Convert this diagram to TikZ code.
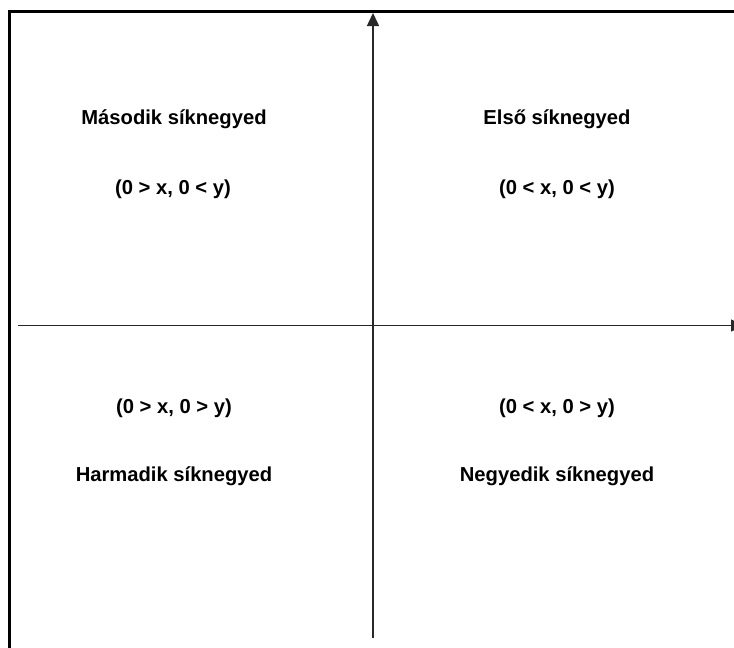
\documentclass[tikz,border=0pt]{standalone}
\usepackage{fontspec}
\setmainfont{Liberation Sans}
\usetikzlibrary{arrows.meta}
\definecolor{tengely}{RGB}{40,40,40}

\begin{document}
\begin{tikzpicture}[x=0.5pt, y=-0.5pt, font=\fontsize{10.1}{12}\selectfont\bfseries,
    axis/.style={draw=tengely, line width=0.75pt, -{Triangle[length=6.5pt, width=6pt]}},
    frame/.style={draw=black, line width=1.5pt}]
    \useasboundingbox (0,0) rectangle (734,648);
    \clip (0,0) rectangle (734,648);
    % frame (only top and left visible)
    \draw[frame] (9.5,11.5) rectangle (800,700);
    % axes
    \coordinate (xstart) at (17.5,325.5);
    \coordinate (xend) at (744,325.5);
    \coordinate (ystart) at (373,638);
    \coordinate (yend) at (373,13);
    \draw[axis] (xstart) -- (xend);
    \draw[axis] (ystart) -- (yend);
    % second quadrant
    \node (masodik) at (174,119) {Második síknegyed};
    \node (masodikfelt) at (173,189) {(0 > x, 0 < y)};
    % first quadrant
    \node (elso) at (557,119) {Első síknegyed};
    \node (elsofelt) at (557,189) {(0 < x, 0 < y)};
    % third quadrant
    \node (harmadikfelt) at (174,408) {(0 > x, 0 > y)};
    \node (harmadik) at (174,476) {Harmadik síknegyed};
    % fourth quadrant
    \node (negyedikfelt) at (557,408) {(0 < x, 0 > y)};
    \node (negyedik) at (557,476) {Negyedik síknegyed};
\end{tikzpicture}
\end{document}
